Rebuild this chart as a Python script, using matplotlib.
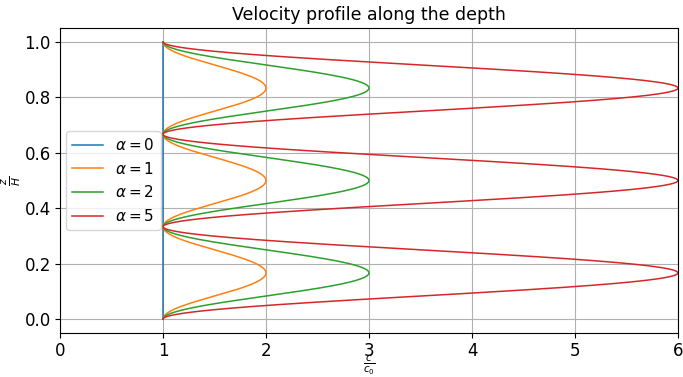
import numpy as np
import matplotlib
matplotlib.use("Agg")
import matplotlib.pyplot as plt

# Stratification strengths for the velocity profiles
alphas = [0, 1, 2, 5]
labels = [r"$\alpha = 0$", r"$\alpha = 1$", r"$\alpha = 2$", r"$\alpha = 5$"]
n_layers = 3  # number of oscillations over the depth

z = np.linspace(0.0, 1.0, 2000)

fig = plt.figure(figsize=(6.83, 3.77), dpi=100)
ax = fig.add_axes([60 / 683, 1 - 333 / 377, 618 / 683, 305 / 377])

for a, lab in zip(alphas, labels):
    c = 1.0 + a * np.sin(n_layers * np.pi * z) ** 2
    ax.plot(c, z, lw=1.1, label=lab)

ax.set_xlim(0, 6)
ax.set_ylim(-0.05, 1.05)
ax.grid(True, color="#b0b0b0", lw=0.8)
ax.tick_params(labelsize=12, pad=3)
ax.set_title("Velocity profile along the depth", fontsize=12.5)
ax.set_xlabel(r"$\frac{c}{c_0}$", fontsize=10.5, va="center")
ax.xaxis.set_label_coords(0.5, -0.108)
ax.set_ylabel(r"$\frac{z}{H}$", fontsize=11, labelpad=1)
ax.legend(loc="center left", fontsize=11, borderaxespad=0.4)

fig.savefig("out.png", dpi=100)
